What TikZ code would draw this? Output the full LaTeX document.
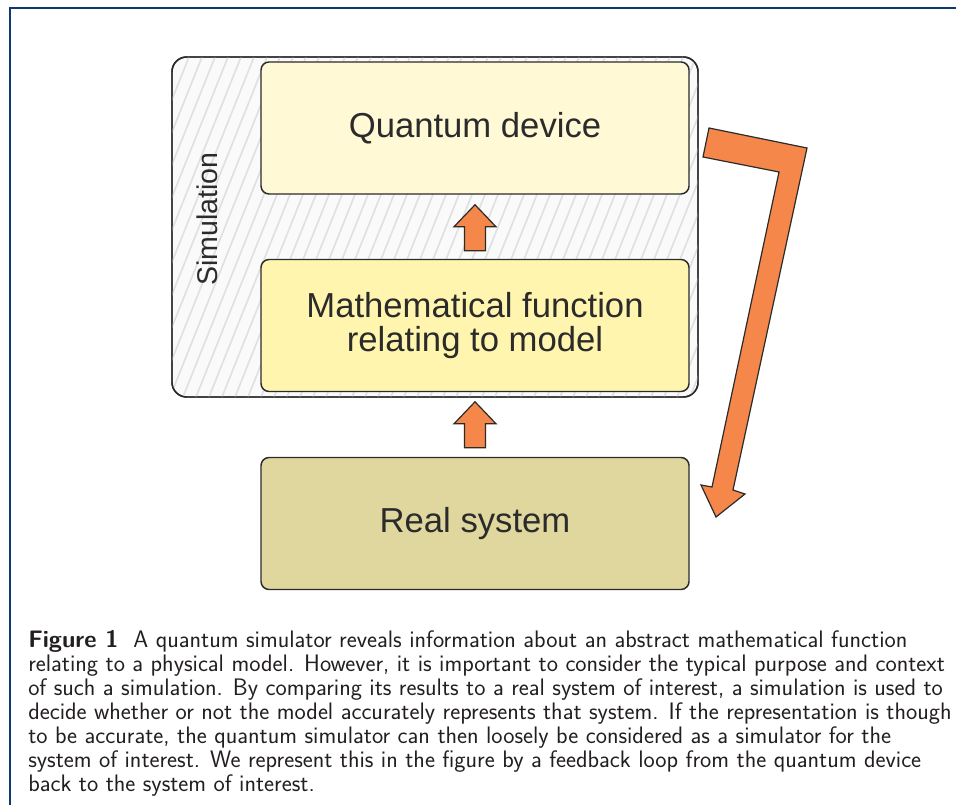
\documentclass[tikz,border=0pt]{standalone}
\usepackage{fontspec}
\newfontfamily\helv{Liberation Sans}
\usetikzlibrary{calc}
\definecolor{framebl}{HTML}{0B3A6B}
\definecolor{edgegray}{HTML}{2B2B2B}
\definecolor{qdevfill}{HTML}{FFF9D6}
\definecolor{mathfill}{HTML}{FFF5AE}
\definecolor{realfill}{HTML}{DFD79E}
\definecolor{arroworange}{HTML}{F5874A}
\definecolor{hatchgray}{HTML}{E0E0E0}
\definecolor{capttext}{HTML}{231F20}
\tikzset{
  stagebox/.style={draw=edgegray, line width=1.1pt, rounded corners=6pt,
    minimum width=321pt, minimum height=99pt, inner sep=0pt, align=center,
    text=edgegray, font=\helv\fontsize{26}{25.5}\selectfont},
  blockarrow/.style={draw=edgegray, line width=0.9pt, fill=arroworange, line join=miter},
}
% small upward block arrow, #1 = middle of its base
\newcommand{\blockup}[1]{%
  \draw[blockarrow] (#1) ++(-10.5,0) -- ++(0,-24) -- ++(-10.5,0) -- ++(21,-22)
    -- ++(21,22) -- ++(-10.5,0) -- ++(0,24) -- cycle;}
\begin{document}
\begin{tikzpicture}[x=0.75pt,y=-0.75pt]
\useasboundingbox (0,0) rectangle (956,805);
\fill[white] (0,0) rectangle (956,805);
% frame
\draw[framebl,line width=1.9pt] (10,805) -- (10,8) -- (956,8);
% simulation box with hatching
\draw[edgegray,line width=1.1pt,fill=black!2,rounded corners=11pt] (172,57) rectangle (698,397);
\begin{scope}
\clip[rounded corners=11pt] (172,57) rectangle (698,397);
\foreach \x in {40,53,...,720} {
  \draw[hatchgray,line width=1.2pt] (\x,397) -- (\x+136,57);
}
\end{scope}
\draw[edgegray,line width=1.1pt,rounded corners=11pt] (172,57) rectangle (698,397);
\node[rotate=90, text=edgegray, font=\helv\fontsize{21.4}{21}\selectfont] (simlabel) at (207,219) {Simulation};
% stages
\node[stagebox, fill=qdevfill] (qdev) at (475,128) {\raisebox{-2pt}{Quantum device}};
\node[stagebox, fill=mathfill] (mathfn) at (475,325.5) {Mathematical function\\relating to model};
\node[stagebox, fill=realfill] (realsys) at (475,523.5) {Real system};
\blockup{$(realsys.north)+(0,-9)$}
\blockup{$(mathfn.north)+(0,-8)$}
% feedback loop
\draw[blockarrow] (709,128) -- (807,148) -- (733,490) -- (745,494) -- (716,517)
  -- (701,485) -- (712,487) -- (779,172) -- (703,157) -- cycle;
% caption
\node[anchor=north west, inner sep=0pt, align=left, text=capttext,
  font=\sffamily\fontsize{17.9}{18}\selectfont] (caption) at (28,630)
  {\textbf{Figure 1}\ \ A quantum simulator reveals information about an abstract mathematical function\\
   relating to a physical model. However, it is important to consider the typical purpose and context\\
   of such a simulation. By comparing its results to a real system of interest, a simulation is used to\\
   decide whether or not the model accurately represents that system. If the representation is though\\
   to be accurate, the quantum simulator can then loosely be considered as a simulator for the\\
   system of interest. We represent this in the figure by a feedback loop from the quantum device\\
   back to the system of interest.};
\end{tikzpicture}
\end{document}
